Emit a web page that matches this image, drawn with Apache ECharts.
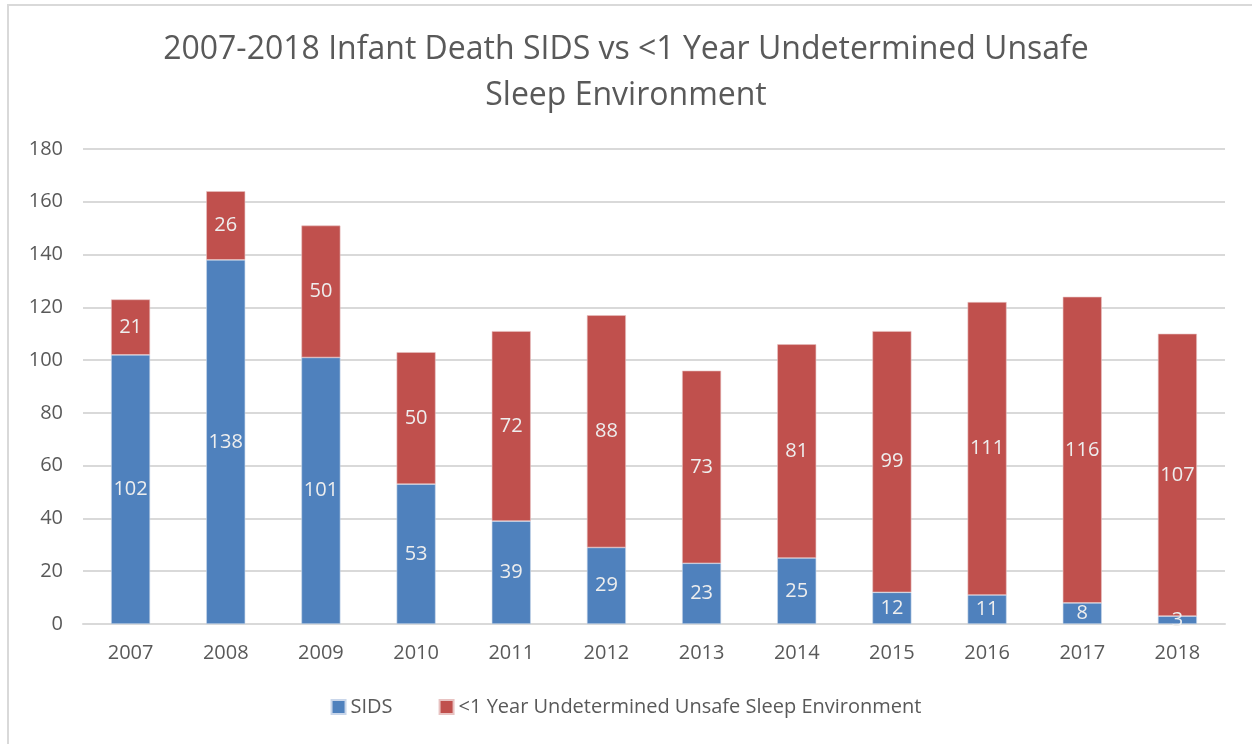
<!DOCTYPE html>
<html>
<head>
<meta charset="utf-8">
<script src="https://cdn.jsdelivr.net/npm/echarts@6/dist/echarts.min.js"></script>
<style>
  html, body { margin: 0; padding: 0; background: #fff; }
  #frame { position: absolute; left: 7px; top: 4px; width: 1250px; height: 745px; border: 2px solid #d9d9d9; box-sizing: border-box; }
  #chart { position: absolute; left: 0; top: 0; width: 1252px; height: 744px; }
</style>
</head>
<body>
<div id="frame"></div>
<div id="chart"></div>
<script>
var years = ['2007', '2008', '2009', '2010', '2011', '2012', '2013', '2014', '2015', '2016', '2017', '2018'];
var sids = [102, 138, 101, 53, 39, 29, 23, 25, 12, 11, 8, 3];
var unsafe = [21, 26, 50, 50, 72, 88, 73, 81, 99, 111, 116, 107];
var yTicks = [0, 20, 40, 60, 80, 100, 120, 140, 160, 180];

var font = '"Open Sans", "Noto Sans", sans-serif';
var chart = echarts.init(document.getElementById('chart'));

chart.setOption({
    animation: false,
    title: {
        text: '2007-2018 Infant Death SIDS vs <1 Year Undetermined Unsafe\nSleep Environment',
        left: 'center',
        top: 22,
        textStyle: { fontFamily: font, fontSize: 32, fontWeight: 'normal', color: '#595959', lineHeight: 46 }
    },
    legend: {
        bottom: 22,
        left: 'center',
        itemWidth: 14,
        itemHeight: 14,
        itemGap: 46,
        icon: 'rect',
        textStyle: { fontFamily: font, fontSize: 20, color: '#595959' },
        data: ['SIDS', '<1 Year Undetermined Unsafe Sleep Environment']
    },
    grid: { left: 83, right: 27, top: 149, bottom: 120 },
    xAxis: {
        type: 'category',
        data: years,
        axisLine: { lineStyle: { color: '#d9d9d9', width: 2 } },
        axisTick: { show: false },
        axisLabel: { fontFamily: font, fontSize: 20, color: '#595959', margin: 19 }
    },
    yAxis: {
        type: 'value',
        min: yTicks[0],
        max: yTicks[yTicks.length - 1],
        interval: 20,
        axisLine: { show: false },
        axisTick: { show: false },
        splitLine: { lineStyle: { color: '#d9d9d9', width: 2 } },
        axisLabel: { fontFamily: font, fontSize: 20, color: '#595959', margin: 20 }
    },
    series: [
        {
            name: 'SIDS',
            type: 'bar',
            stack: 'total',
            barWidth: 39,
            data: sids,
            itemStyle: { color: '#4F81BD', borderColor: '#c9d6ea', borderWidth: 0.6 },
            label: { show: true, position: 'inside', fontFamily: font, fontSize: 20, color: '#eeeeee' }
        },
        {
            name: '<1 Year Undetermined Unsafe Sleep Environment',
            type: 'bar',
            stack: 'total',
            barWidth: 39,
            data: unsafe,
            itemStyle: { color: '#C0504D', borderColor: '#e8c3c2', borderWidth: 0.6 },
            label: { show: true, position: 'inside', fontFamily: font, fontSize: 20, color: '#eeeeee' }
        }
    ]
});
</script>
</body>
</html>
